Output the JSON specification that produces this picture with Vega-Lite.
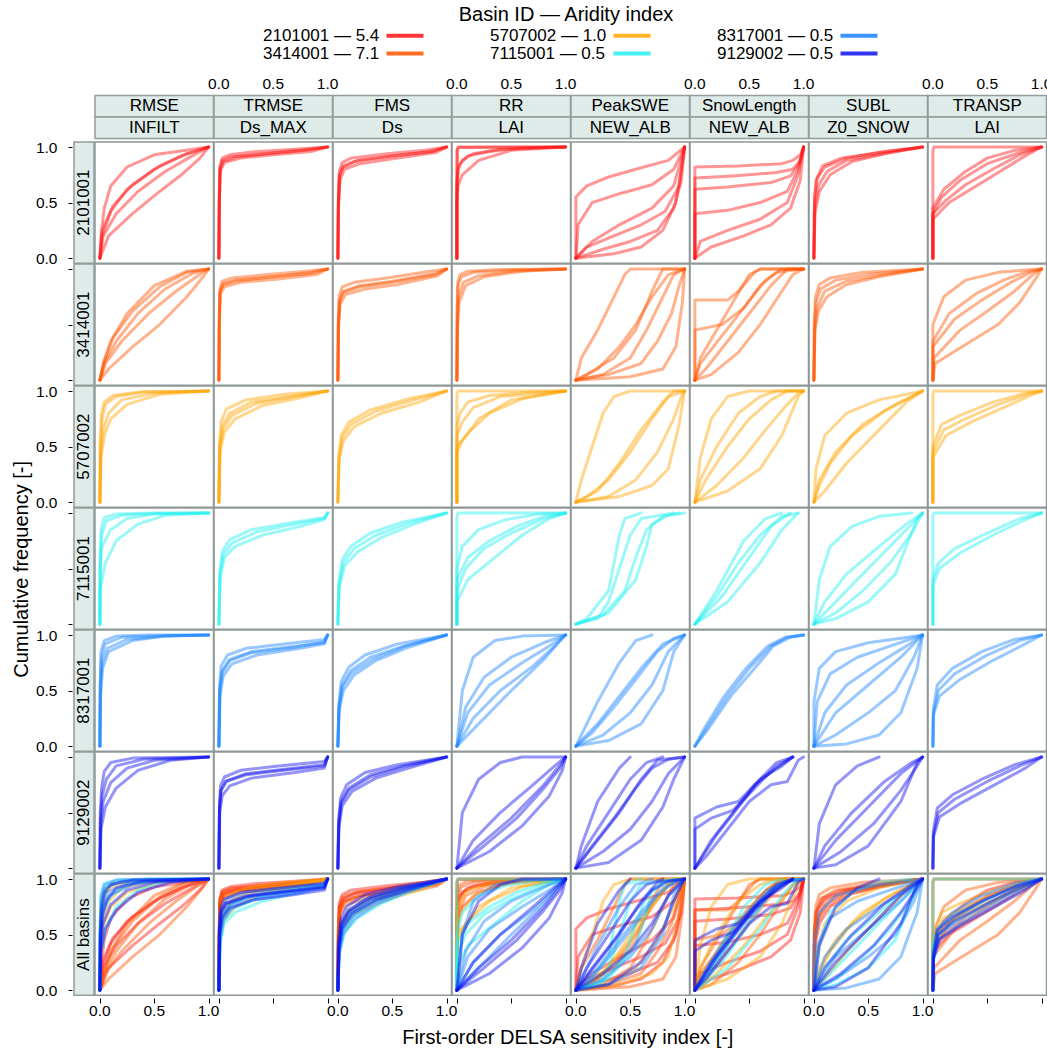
{
"$schema": "https://vega.github.io/schema/vega-lite/v6.json",
"padding": {"left": 12, "top": 5, "right": 1, "bottom": 2},
"config": {
  "font": "Liberation Sans",
  "view": {"stroke": "#8e9896", "strokeWidth": 1.5},
  "axis": {"labelFontSize": 15.5, "labelColor": "#000", "tickColor": "#000", "domain": false, "grid": false},
  "title": {"fontWeight": "normal", "fontSize": 20, "color": "#000"}
},
"columns": 2,
"spacing": {"row": 0, "column": -7.6},
"bounds": "full",
"align": "each",
"resolve": {"scale": {"x": "independent", "y": "independent"}},
"concat": [
{"width": 20, "height": 10, "view": {"stroke": null}, "data": {"values": [{}]}, "mark": {"type": "text", "text": ""}},
{
 "data": {"values": [
  {"c":"RMSE","t":"s","lvl":"s1","txt":"RMSE"},{"c":"RMSE","t":"s","lvl":"s2","txt":"INFILT"},
  {"c":"TRMSE","t":"s","lvl":"s1","txt":"TRMSE"},{"c":"TRMSE","t":"s","lvl":"s2","txt":"Ds_MAX"},
  {"c":"FMS","t":"s","lvl":"s1","txt":"FMS"},{"c":"FMS","t":"s","lvl":"s2","txt":"Ds"},
  {"c":"RR","t":"s","lvl":"s1","txt":"RR"},{"c":"RR","t":"s","lvl":"s2","txt":"LAI"},
  {"c":"PeakSWE","t":"s","lvl":"s1","txt":"PeakSWE"},{"c":"PeakSWE","t":"s","lvl":"s2","txt":"NEW_ALB"},
  {"c":"SnowLength","t":"s","lvl":"s1","txt":"SnowLength"},{"c":"SnowLength","t":"s","lvl":"s2","txt":"NEW_ALB"},
  {"c":"SUBL","t":"s","lvl":"s1","txt":"SUBL"},{"c":"SUBL","t":"s","lvl":"s2","txt":"Z0_SNOW"},
  {"c":"TRANSP","t":"s","lvl":"s1","txt":"TRANSP"},{"c":"TRANSP","t":"s","lvl":"s2","txt":"LAI"},
  {"c":"RMSE","t":"x","lvl":"s2","v":0,"txt":"0.0"},
  {"c":"TRMSE","t":"l","lvl":"lab","v":0,"txt":"0.0"},{"c":"TRMSE","t":"l","lvl":"lab","v":0.5,"txt":"0.5"},{"c":"TRMSE","t":"l","lvl":"lab","v":1,"txt":"1.0"},
  {"c":"RR","t":"l","lvl":"lab","v":0,"txt":"0.0"},{"c":"RR","t":"l","lvl":"lab","v":0.5,"txt":"0.5"},{"c":"RR","t":"l","lvl":"lab","v":1,"txt":"1.0"},
  {"c":"SnowLength","t":"l","lvl":"lab","v":0,"txt":"0.0"},{"c":"SnowLength","t":"l","lvl":"lab","v":0.5,"txt":"0.5"},{"c":"SnowLength","t":"l","lvl":"lab","v":1,"txt":"1.0"},
  {"c":"TRANSP","t":"l","lvl":"lab","v":0,"txt":"0.0"},{"c":"TRANSP","t":"l","lvl":"lab","v":0.5,"txt":"0.5"},{"c":"TRANSP","t":"l","lvl":"lab","v":1,"txt":"1.0"}
 ]},
 "facet": {"column": {"field": "c", "type": "nominal", "sort": ["RMSE","TRMSE","FMS","RR","PeakSWE","SnowLength","SUBL","TRANSP"], "header": null}},
 "spacing": 0,
 "bounds": "flush",
 "spec": {
  "width": 118.5, "height": 64.5, "view": {"stroke": null},
  "layer": [
   {"transform": [{"filter": "datum.t == 's'"}],
    "mark": {"type": "rect", "fill": "#deebe8", "stroke": "#939d9b", "strokeWidth": 1.5},
    "encoding": {
     "x": {"datum": -0.045, "type": "quantitative", "scale": {"domain": [-0.045, 1.045], "nice": false, "zero": false}, "axis": null},
     "x2": {"datum": 1.045},
     "y": {"field": "lvl", "type": "nominal", "scale": {"domain": ["lab","s1","s2"], "paddingInner": 0, "paddingOuter": 0}, "axis": null}
    }},
   {"transform": [{"filter": "datum.t == 's'"}],
    "mark": {"type": "text", "fontSize": 17, "color": "#000"},
    "encoding": {
     "x": {"datum": 0.5, "type": "quantitative"},
     "y": {"field": "lvl", "type": "nominal"},
     "text": {"field": "txt"}
    }},
   {"transform": [{"filter": "datum.t == 'l'"}],
    "mark": {"type": "text", "fontSize": 15.5, "dy": -1, "color": "#000"},
    "encoding": {
     "x": {"field": "v", "type": "quantitative"},
     "y": {"field": "lvl", "type": "nominal"},
     "text": {"field": "txt"}
    }},
   {"transform": [{"filter": "datum.t == 'x'"}],
    "mark": {"type": "text", "fontSize": 15.5, "opacity": 0},
    "encoding": {
     "x": {"field": "v", "type": "quantitative"},
     "y": {"field": "lvl", "type": "nominal"},
     "text": {"field": "txt"}
    }}
  ]
 }
},
{
 "vconcat": [
  {"width": 20, "height": 121.14, "view": {"stroke": null}, "data": {"values": [{"r": "2101001"}]},
   "layer": [
    {"mark": {"type": "rect", "fill": "#deebe8", "stroke": "#939d9b", "strokeWidth": 1.5},
     "encoding": {"x": {"datum": 0, "type": "quantitative", "scale": {"domain": [0, 1]}, "axis": null}, "x2": {"datum": 1},
      "y": {"datum": -0.045, "type": "quantitative", "scale": {"domain": [-0.045, 1.045], "nice": false, "zero": false},
            "axis": {"values": [0, 0.5, 1], "format": ".1f", "labels": true, "tickSize": 4, "offset": 2, "labelPadding": 11, "title": null}},
      "y2": {"datum": 1.045}}},
    {"mark": {"type": "text", "angle": 270, "fontSize": 17, "color": "#000"},
     "encoding": {"x": {"datum": 0.5, "type": "quantitative"}, "y": {"datum": 0.5, "type": "quantitative"}, "text": {"field": "r"}}}
   ]},
  {"width": 20, "height": 121.14, "view": {"stroke": null}, "data": {"values": [{"r": "3414001"}]},
   "layer": [
    {"mark": {"type": "rect", "fill": "#deebe8", "stroke": "#939d9b", "strokeWidth": 1.5},
     "encoding": {"x": {"datum": 0, "type": "quantitative", "scale": {"domain": [0, 1]}, "axis": null}, "x2": {"datum": 1},
      "y": {"datum": -0.045, "type": "quantitative", "scale": {"domain": [-0.045, 1.045], "nice": false, "zero": false},
            "axis": {"values": [0, 0.5, 1], "format": ".1f", "labels": false, "tickSize": 4, "offset": 2, "labelPadding": 11, "title": null}},
      "y2": {"datum": 1.045}}},
    {"mark": {"type": "text", "angle": 270, "fontSize": 17, "color": "#000"},
     "encoding": {"x": {"datum": 0.5, "type": "quantitative"}, "y": {"datum": 0.5, "type": "quantitative"}, "text": {"field": "r"}}}
   ]},
  {"width": 20, "height": 121.14, "view": {"stroke": null}, "data": {"values": [{"r": "5707002"}]},
   "layer": [
    {"mark": {"type": "rect", "fill": "#deebe8", "stroke": "#939d9b", "strokeWidth": 1.5},
     "encoding": {"x": {"datum": 0, "type": "quantitative", "scale": {"domain": [0, 1]}, "axis": null}, "x2": {"datum": 1},
      "y": {"datum": -0.045, "type": "quantitative", "scale": {"domain": [-0.045, 1.045], "nice": false, "zero": false},
            "axis": {"values": [0, 0.5, 1], "format": ".1f", "labels": true, "tickSize": 4, "offset": 2, "labelPadding": 11, "title": null}},
      "y2": {"datum": 1.045}}},
    {"mark": {"type": "text", "angle": 270, "fontSize": 17, "color": "#000"},
     "encoding": {"x": {"datum": 0.5, "type": "quantitative"}, "y": {"datum": 0.5, "type": "quantitative"}, "text": {"field": "r"}}}
   ]},
  {"width": 20, "height": 121.14, "view": {"stroke": null}, "data": {"values": [{"r": "7115001"}]},
   "layer": [
    {"mark": {"type": "rect", "fill": "#deebe8", "stroke": "#939d9b", "strokeWidth": 1.5},
     "encoding": {"x": {"datum": 0, "type": "quantitative", "scale": {"domain": [0, 1]}, "axis": null}, "x2": {"datum": 1},
      "y": {"datum": -0.045, "type": "quantitative", "scale": {"domain": [-0.045, 1.045], "nice": false, "zero": false},
            "axis": {"values": [0, 0.5, 1], "format": ".1f", "labels": false, "tickSize": 4, "offset": 2, "labelPadding": 11, "title": null}},
      "y2": {"datum": 1.045}}},
    {"mark": {"type": "text", "angle": 270, "fontSize": 17, "color": "#000"},
     "encoding": {"x": {"datum": 0.5, "type": "quantitative"}, "y": {"datum": 0.5, "type": "quantitative"}, "text": {"field": "r"}}}
   ]},
  {"width": 20, "height": 121.14, "view": {"stroke": null}, "data": {"values": [{"r": "8317001"}]},
   "layer": [
    {"mark": {"type": "rect", "fill": "#deebe8", "stroke": "#939d9b", "strokeWidth": 1.5},
     "encoding": {"x": {"datum": 0, "type": "quantitative", "scale": {"domain": [0, 1]}, "axis": null}, "x2": {"datum": 1},
      "y": {"datum": -0.045, "type": "quantitative", "scale": {"domain": [-0.045, 1.045], "nice": false, "zero": false},
            "axis": {"values": [0, 0.5, 1], "format": ".1f", "labels": true, "tickSize": 4, "offset": 2, "labelPadding": 11, "title": null}},
      "y2": {"datum": 1.045}}},
    {"mark": {"type": "text", "angle": 270, "fontSize": 17, "color": "#000"},
     "encoding": {"x": {"datum": 0.5, "type": "quantitative"}, "y": {"datum": 0.5, "type": "quantitative"}, "text": {"field": "r"}}}
   ]},
  {"width": 20, "height": 121.14, "view": {"stroke": null}, "data": {"values": [{"r": "9129002"}]},
   "layer": [
    {"mark": {"type": "rect", "fill": "#deebe8", "stroke": "#939d9b", "strokeWidth": 1.5},
     "encoding": {"x": {"datum": 0, "type": "quantitative", "scale": {"domain": [0, 1]}, "axis": null}, "x2": {"datum": 1},
      "y": {"datum": -0.045, "type": "quantitative", "scale": {"domain": [-0.045, 1.045], "nice": false, "zero": false},
            "axis": {"values": [0, 0.5, 1], "format": ".1f", "labels": false, "tickSize": 4, "offset": 2, "labelPadding": 11, "title": null}},
      "y2": {"datum": 1.045}}},
    {"mark": {"type": "text", "angle": 270, "fontSize": 17, "color": "#000"},
     "encoding": {"x": {"datum": 0.5, "type": "quantitative"}, "y": {"datum": 0.5, "type": "quantitative"}, "text": {"field": "r"}}}
   ]},
  {"width": 20, "height": 121.14, "view": {"stroke": null}, "data": {"values": [{"r": "All basins"}]},
   "layer": [
    {"mark": {"type": "rect", "fill": "#deebe8", "stroke": "#939d9b", "strokeWidth": 1.5},
     "encoding": {"x": {"datum": 0, "type": "quantitative", "scale": {"domain": [0, 1]}, "axis": null}, "x2": {"datum": 1},
      "y": {"datum": -0.045, "type": "quantitative", "scale": {"domain": [-0.045, 1.045], "nice": false, "zero": false},
            "axis": {"values": [0, 0.5, 1], "format": ".1f", "labels": true, "tickSize": 4, "offset": 2, "labelPadding": 11, "title": null}},
      "y2": {"datum": 1.045}}},
    {"mark": {"type": "text", "angle": 270, "fontSize": 17, "color": "#000"},
     "encoding": {"x": {"datum": 0.5, "type": "quantitative"}, "y": {"datum": 0.5, "type": "quantitative"}, "text": {"field": "r"}}}
   ]}
 ],
 "spacing": 0,
 "bounds": "flush",
 "resolve": {"scale": {"x": "independent", "y": "independent"}},
 "title": {"text": "Cumulative frequency [-]", "orient": "left", "anchor": "middle", "fontSize": 20, "fontWeight": "normal", "offset": 3}
},
{
 "data": {"values": [
{"b":"2101001 — 5.4","id":"2101001","a":"All basins","c":"RMSE","k":1,"x":[0,0.01,0.04,0.1,0.25,0.5,1],"y":[0,0.2,0.45,0.65,0.82,0.93,1]},
{"b":"2101001 — 5.4","id":"2101001","a":"All basins","c":"RMSE","k":2,"x":[0,0.02,0.1,0.25,0.5,0.75,1],"y":[0,0.2,0.42,0.62,0.8,0.92,1]},
{"b":"2101001 — 5.4","id":"2101001","a":"All basins","c":"RMSE","k":3,"x":[0,0.03,0.15,0.35,0.6,0.85,1],"y":[0,0.2,0.4,0.6,0.78,0.92,1]},
{"b":"2101001 — 5.4","id":"2101001","a":"All basins","c":"RMSE","k":4,"x":[0,0.08,0.3,0.55,0.75,0.92,1],"y":[0,0.2,0.4,0.6,0.75,0.9,1]},
{"b":"2101001 — 5.4","id":"2101001","a":"All basins","c":"RMSE","k":5,"x":[0,0.02,0.12,0.3,0.55,0.8,1],"y":[0,0.25,0.47,0.66,0.83,0.94,1]},
{"b":"2101001 — 5.4","id":"2101001","a":"All basins","c":"TRMSE","k":1,"x":[0,0.004,0.01,0.03,0.1,0.4,0.75,1],"y":[0,0.5,0.8,0.88,0.91,0.94,0.97,1]},
{"b":"2101001 — 5.4","id":"2101001","a":"All basins","c":"TRMSE","k":2,"x":[0,0.004,0.012,0.05,0.2,0.5,0.85,1],"y":[0,0.5,0.78,0.86,0.9,0.93,0.96,1]},
{"b":"2101001 — 5.4","id":"2101001","a":"All basins","c":"TRMSE","k":3,"x":[0,0.003,0.008,0.03,0.1,0.35,0.7,1],"y":[0,0.55,0.82,0.9,0.93,0.96,0.98,1]},
{"b":"2101001 — 5.4","id":"2101001","a":"All basins","c":"TRMSE","k":4,"x":[0,0.004,0.012,0.04,0.15,0.45,0.8,1],"y":[0,0.5,0.8,0.87,0.91,0.94,0.97,1]},
{"b":"2101001 — 5.4","id":"2101001","a":"All basins","c":"FMS","k":1,"x":[0,0.005,0.015,0.05,0.15,0.5,0.85,1],"y":[0,0.5,0.75,0.83,0.87,0.92,0.96,1]},
{"b":"2101001 — 5.4","id":"2101001","a":"All basins","c":"FMS","k":2,"x":[0,0.005,0.02,0.06,0.2,0.55,0.9,1],"y":[0,0.45,0.7,0.8,0.85,0.9,0.95,1]},
{"b":"2101001 — 5.4","id":"2101001","a":"All basins","c":"FMS","k":3,"x":[0,0.004,0.012,0.04,0.12,0.45,0.8,1],"y":[0,0.55,0.78,0.86,0.9,0.94,0.97,1]},
{"b":"2101001 — 5.4","id":"2101001","a":"All basins","c":"FMS","k":4,"x":[0,0.005,0.015,0.05,0.18,0.5,0.88,1],"y":[0,0.5,0.74,0.82,0.88,0.92,0.96,1]},
{"b":"2101001 — 5.4","id":"2101001","a":"All basins","c":"RR","k":1,"x":[0,0,0,0.01,1],"y":[0,0.5,0.97,1,1]},
{"b":"2101001 — 5.4","id":"2101001","a":"All basins","c":"RR","k":2,"x":[0,0,0.005,0.02,1],"y":[0,0.6,0.98,0.995,1]},
{"b":"2101001 — 5.4","id":"2101001","a":"All basins","c":"RR","k":3,"x":[0,0,0.01,0.05,0.2,0.5,1],"y":[0,0.5,0.65,0.75,0.88,0.97,1]},
{"b":"2101001 — 5.4","id":"2101001","a":"All basins","c":"RR","k":4,"x":[0,0,0.01,0.05,0.15,0.4,1],"y":[0,0.6,0.8,0.88,0.94,0.98,1]},
{"b":"2101001 — 5.4","id":"2101001","a":"All basins","c":"RR","k":5,"x":[0,0,0.02,0.1,0.3,0.6,1],"y":[0,0.7,0.84,0.92,0.96,0.99,1]},
{"b":"2101001 — 5.4","id":"2101001","a":"All basins","c":"PeakSWE","k":1,"x":[0,0,0.1,0.3,0.55,0.85,1],"y":[0,0.55,0.65,0.73,0.8,0.88,1]},
{"b":"2101001 — 5.4","id":"2101001","a":"All basins","c":"PeakSWE","k":2,"x":[0,0.02,0.15,0.4,0.7,0.9,1],"y":[0,0.3,0.5,0.58,0.66,0.8,1]},
{"b":"2101001 — 5.4","id":"2101001","a":"All basins","c":"PeakSWE","k":3,"x":[0,0.15,0.4,0.7,0.9,1],"y":[0,0.15,0.3,0.45,0.65,1]},
{"b":"2101001 — 5.4","id":"2101001","a":"All basins","c":"PeakSWE","k":4,"x":[0,0.25,0.5,0.75,0.9,0.97,1],"y":[0,0.08,0.15,0.25,0.45,0.7,1]},
{"b":"2101001 — 5.4","id":"2101001","a":"All basins","c":"PeakSWE","k":5,"x":[0,0.35,0.6,0.8,0.92,1],"y":[0,0.04,0.1,0.25,0.5,1]},
{"b":"2101001 — 5.4","id":"2101001","a":"All basins","c":"PeakSWE","k":6,"x":[0,0.1,0.35,0.6,0.82,0.95,1],"y":[0,0.1,0.2,0.3,0.42,0.65,1]},
{"b":"2101001 — 5.4","id":"2101001","a":"All basins","c":"SnowLength","k":1,"x":[0,0,0.4,0.8,0.9,0.97,1],"y":[0,0.82,0.83,0.85,0.88,0.93,1]},
{"b":"2101001 — 5.4","id":"2101001","a":"All basins","c":"SnowLength","k":2,"x":[0,0,0.3,0.7,0.88,0.96,1],"y":[0,0.62,0.64,0.68,0.74,0.85,1]},
{"b":"2101001 — 5.4","id":"2101001","a":"All basins","c":"SnowLength","k":3,"x":[0,0,0.3,0.6,0.85,0.95,1],"y":[0,0.4,0.43,0.5,0.6,0.8,1]},
{"b":"2101001 — 5.4","id":"2101001","a":"All basins","c":"SnowLength","k":4,"x":[0,0.05,0.3,0.6,0.85,0.95,1],"y":[0,0.15,0.25,0.35,0.5,0.75,1]},
{"b":"2101001 — 5.4","id":"2101001","a":"All basins","c":"SnowLength","k":5,"x":[0,0.15,0.45,0.7,0.88,0.97,1],"y":[0,0.1,0.2,0.3,0.45,0.7,1]},
{"b":"2101001 — 5.4","id":"2101001","a":"All basins","c":"SnowLength","k":6,"x":[0,0,0.35,0.75,0.9,0.97,1],"y":[0,0.72,0.74,0.77,0.8,0.88,1]},
{"b":"2101001 — 5.4","id":"2101001","a":"All basins","c":"SUBL","k":1,"x":[0,0.005,0.02,0.08,0.25,0.6,1],"y":[0,0.5,0.7,0.83,0.9,0.95,1]},
{"b":"2101001 — 5.4","id":"2101001","a":"All basins","c":"SUBL","k":2,"x":[0,0.01,0.05,0.15,0.35,0.7,1],"y":[0,0.4,0.6,0.75,0.87,0.95,1]},
{"b":"2101001 — 5.4","id":"2101001","a":"All basins","c":"SUBL","k":3,"x":[0,0.005,0.03,0.1,0.3,0.65,1],"y":[0,0.55,0.72,0.82,0.9,0.96,1]},
{"b":"2101001 — 5.4","id":"2101001","a":"All basins","c":"SUBL","k":4,"x":[0,0.008,0.04,0.12,0.3,0.7,1],"y":[0,0.45,0.65,0.78,0.88,0.95,1]},
{"b":"2101001 — 5.4","id":"2101001","a":"All basins","c":"TRANSP","k":1,"x":[0,0,0,0.01,1],"y":[0,0.5,0.97,1,1]},
{"b":"2101001 — 5.4","id":"2101001","a":"All basins","c":"TRANSP","k":2,"x":[0,0,0.1,0.3,0.5,0.75,1],"y":[0,0.45,0.62,0.78,0.9,0.97,1]},
{"b":"2101001 — 5.4","id":"2101001","a":"All basins","c":"TRANSP","k":3,"x":[0,0,0.15,0.35,0.6,0.85,1],"y":[0,0.35,0.5,0.62,0.77,0.92,1]},
{"b":"2101001 — 5.4","id":"2101001","a":"All basins","c":"TRANSP","k":4,"x":[0,0,0.08,0.25,0.5,0.8,1],"y":[0,0.4,0.55,0.7,0.85,0.95,1]},
{"b":"2101001 — 5.4","id":"2101001","a":"All basins","c":"TRANSP","k":5,"x":[0,0,0.12,0.3,0.55,0.8,1],"y":[0,0.4,0.52,0.66,0.8,0.93,1]},

{"b":"3414001 — 7.1","id":"3414001","a":"All basins","c":"RMSE","k":1,"x":[0,0.03,0.1,0.25,0.5,0.8,1],"y":[0,0.15,0.35,0.6,0.85,0.98,1]},
{"b":"3414001 — 7.1","id":"3414001","a":"All basins","c":"RMSE","k":2,"x":[0,0.04,0.15,0.35,0.6,0.85,1],"y":[0,0.15,0.35,0.6,0.82,0.96,1]},
{"b":"3414001 — 7.1","id":"3414001","a":"All basins","c":"RMSE","k":3,"x":[0,0.05,0.2,0.45,0.7,0.9,1],"y":[0,0.15,0.35,0.6,0.8,0.94,1]},
{"b":"3414001 — 7.1","id":"3414001","a":"All basins","c":"RMSE","k":4,"x":[0,0.08,0.3,0.55,0.8,0.95,1],"y":[0,0.1,0.3,0.5,0.75,0.93,1]},
{"b":"3414001 — 7.1","id":"3414001","a":"All basins","c":"RMSE","k":5,"x":[0,0.04,0.12,0.3,0.55,0.8,1],"y":[0,0.17,0.38,0.62,0.84,0.97,1]},
{"b":"3414001 — 7.1","id":"3414001","a":"All basins","c":"TRMSE","k":1,"x":[0,0.004,0.01,0.04,0.15,0.5,0.85,1],"y":[0,0.5,0.8,0.87,0.9,0.93,0.97,1]},
{"b":"3414001 — 7.1","id":"3414001","a":"All basins","c":"TRMSE","k":2,"x":[0,0.004,0.012,0.05,0.2,0.55,0.9,1],"y":[0,0.5,0.77,0.84,0.88,0.91,0.95,1]},
{"b":"3414001 — 7.1","id":"3414001","a":"All basins","c":"TRMSE","k":3,"x":[0,0.003,0.009,0.03,0.12,0.45,0.8,1],"y":[0,0.55,0.82,0.89,0.92,0.95,0.98,1]},
{"b":"3414001 — 7.1","id":"3414001","a":"All basins","c":"TRMSE","k":4,"x":[0,0.004,0.01,0.04,0.15,0.5,0.85,1],"y":[0,0.5,0.79,0.86,0.89,0.93,0.96,1]},
{"b":"3414001 — 7.1","id":"3414001","a":"All basins","c":"FMS","k":1,"x":[0,0.005,0.015,0.05,0.2,0.5,0.9,1],"y":[0,0.5,0.72,0.8,0.85,0.89,0.96,1]},
{"b":"3414001 — 7.1","id":"3414001","a":"All basins","c":"FMS","k":2,"x":[0,0.005,0.02,0.07,0.25,0.55,0.92,1],"y":[0,0.45,0.68,0.77,0.82,0.86,0.94,1]},
{"b":"3414001 — 7.1","id":"3414001","a":"All basins","c":"FMS","k":3,"x":[0,0.004,0.012,0.04,0.15,0.45,0.85,1],"y":[0,0.55,0.76,0.84,0.88,0.92,0.98,1]},
{"b":"3414001 — 7.1","id":"3414001","a":"All basins","c":"FMS","k":4,"x":[0,0.005,0.015,0.05,0.2,0.5,0.9,1],"y":[0,0.5,0.7,0.79,0.84,0.88,0.95,1]},
{"b":"3414001 — 7.1","id":"3414001","a":"All basins","c":"RR","k":1,"x":[0,0.003,0.01,0.04,0.15,0.5,1],"y":[0,0.6,0.85,0.93,0.97,0.99,1]},
{"b":"3414001 — 7.1","id":"3414001","a":"All basins","c":"RR","k":2,"x":[0,0.004,0.015,0.06,0.2,0.5,1],"y":[0,0.5,0.75,0.88,0.94,0.98,1]},
{"b":"3414001 — 7.1","id":"3414001","a":"All basins","c":"RR","k":3,"x":[0,0.002,0.008,0.03,0.1,0.4,1],"y":[0,0.65,0.88,0.95,0.98,0.995,1]},
{"b":"3414001 — 7.1","id":"3414001","a":"All basins","c":"RR","k":4,"x":[0,0.005,0.02,0.08,0.25,0.6,1],"y":[0,0.45,0.7,0.85,0.93,0.98,1]},
{"b":"3414001 — 7.1","id":"3414001","a":"All basins","c":"PeakSWE","k":1,"x":[0,0.05,0.2,0.35,0.45,0.5,1],"y":[0,0.2,0.45,0.75,0.95,1,1]},
{"b":"3414001 — 7.1","id":"3414001","a":"All basins","c":"PeakSWE","k":2,"x":[0,0.2,0.4,0.55,0.7,0.85,1],"y":[0,0.1,0.3,0.5,0.75,0.95,1]},
{"b":"3414001 — 7.1","id":"3414001","a":"All basins","c":"PeakSWE","k":3,"x":[0,0.3,0.6,0.75,0.88,0.95,1],"y":[0,0.05,0.15,0.35,0.6,0.85,1]},
{"b":"3414001 — 7.1","id":"3414001","a":"All basins","c":"PeakSWE","k":4,"x":[0,0.5,0.8,0.92,0.98,1],"y":[0,0.03,0.1,0.3,0.7,1]},
{"b":"3414001 — 7.1","id":"3414001","a":"All basins","c":"PeakSWE","k":5,"x":[0,0.1,0.35,0.55,0.7,0.8,1],"y":[0,0.05,0.2,0.45,0.8,1,1]},
{"b":"3414001 — 7.1","id":"3414001","a":"All basins","c":"PeakSWE","k":6,"x":[0,0.25,0.5,0.65,0.8,0.9,1],"y":[0,0.05,0.2,0.45,0.75,0.95,1]},
{"b":"3414001 — 7.1","id":"3414001","a":"All basins","c":"SnowLength","k":1,"x":[0,0,0.3,0.4,0.55,0.6,1],"y":[0,0.72,0.72,0.8,0.97,1,1]},
{"b":"3414001 — 7.1","id":"3414001","a":"All basins","c":"SnowLength","k":2,"x":[0,0.05,0.2,0.35,0.5,0.6,1],"y":[0,0.2,0.45,0.7,0.95,1,1]},
{"b":"3414001 — 7.1","id":"3414001","a":"All basins","c":"SnowLength","k":3,"x":[0,0.1,0.3,0.5,0.7,0.85,1],"y":[0,0.1,0.35,0.6,0.85,1,1]},
{"b":"3414001 — 7.1","id":"3414001","a":"All basins","c":"SnowLength","k":4,"x":[0,0.15,0.4,0.6,0.8,0.9,1],"y":[0,0.05,0.25,0.5,0.8,0.95,1]},
{"b":"3414001 — 7.1","id":"3414001","a":"All basins","c":"SnowLength","k":5,"x":[0,0,0.25,0.45,0.6,0.75,1],"y":[0,0.45,0.5,0.65,0.85,0.97,1]},
{"b":"3414001 — 7.1","id":"3414001","a":"All basins","c":"SnowLength","k":6,"x":[0,0.05,0.25,0.45,0.65,0.8,1],"y":[0,0.15,0.4,0.65,0.9,1,1]},
{"b":"3414001 — 7.1","id":"3414001","a":"All basins","c":"SUBL","k":1,"x":[0,0.005,0.02,0.06,0.2,0.5,1],"y":[0,0.5,0.7,0.82,0.9,0.95,1]},
{"b":"3414001 — 7.1","id":"3414001","a":"All basins","c":"SUBL","k":2,"x":[0,0.01,0.04,0.12,0.3,0.6,1],"y":[0,0.45,0.62,0.75,0.86,0.93,1]},
{"b":"3414001 — 7.1","id":"3414001","a":"All basins","c":"SUBL","k":3,"x":[0,0.004,0.015,0.05,0.15,0.45,1],"y":[0,0.55,0.75,0.86,0.92,0.97,1]},
{"b":"3414001 — 7.1","id":"3414001","a":"All basins","c":"SUBL","k":4,"x":[0,0.008,0.03,0.1,0.3,0.65,1],"y":[0,0.45,0.65,0.8,0.89,0.95,1]},
{"b":"3414001 — 7.1","id":"3414001","a":"All basins","c":"TRANSP","k":1,"x":[0,0,0.1,0.3,0.6,0.85,1],"y":[0,0.5,0.75,0.9,0.97,0.99,1]},
{"b":"3414001 — 7.1","id":"3414001","a":"All basins","c":"TRANSP","k":2,"x":[0,0,0.15,0.4,0.65,0.85,1],"y":[0,0.35,0.6,0.78,0.9,0.97,1]},
{"b":"3414001 — 7.1","id":"3414001","a":"All basins","c":"TRANSP","k":3,"x":[0,0.01,0.25,0.5,0.75,0.92,1],"y":[0,0.2,0.45,0.62,0.8,0.95,1]},
{"b":"3414001 — 7.1","id":"3414001","a":"All basins","c":"TRANSP","k":4,"x":[0,0.02,0.35,0.6,0.8,0.95,1],"y":[0,0.15,0.35,0.5,0.7,0.92,1]},
{"b":"3414001 — 7.1","id":"3414001","a":"All basins","c":"TRANSP","k":5,"x":[0,0,0.2,0.45,0.7,0.9,1],"y":[0,0.3,0.55,0.72,0.87,0.97,1]},

{"b":"5707002 — 1.0","id":"5707002","a":"All basins","c":"RMSE","k":1,"x":[0,0.005,0.02,0.05,0.15,0.4,1],"y":[0,0.5,0.75,0.88,0.95,0.99,1]},
{"b":"5707002 — 1.0","id":"5707002","a":"All basins","c":"RMSE","k":2,"x":[0,0.008,0.03,0.08,0.2,0.5,1],"y":[0,0.45,0.65,0.8,0.92,0.98,1]},
{"b":"5707002 — 1.0","id":"5707002","a":"All basins","c":"RMSE","k":3,"x":[0,0.004,0.015,0.04,0.12,0.35,1],"y":[0,0.55,0.8,0.9,0.96,0.99,1]},
{"b":"5707002 — 1.0","id":"5707002","a":"All basins","c":"RMSE","k":4,"x":[0,0.01,0.04,0.1,0.25,0.55,1],"y":[0,0.4,0.6,0.75,0.88,0.97,1]},
{"b":"5707002 — 1.0","id":"5707002","a":"All basins","c":"TRMSE","k":1,"x":[0,0.008,0.03,0.1,0.3,0.65,1],"y":[0,0.5,0.68,0.8,0.9,0.95,1]},
{"b":"5707002 — 1.0","id":"5707002","a":"All basins","c":"TRMSE","k":2,"x":[0,0.01,0.05,0.15,0.4,0.75,1],"y":[0,0.45,0.63,0.75,0.87,0.94,1]},
{"b":"5707002 — 1.0","id":"5707002","a":"All basins","c":"TRMSE","k":3,"x":[0,0.006,0.02,0.07,0.25,0.6,1],"y":[0,0.55,0.72,0.84,0.92,0.97,1]},
{"b":"5707002 — 1.0","id":"5707002","a":"All basins","c":"TRMSE","k":4,"x":[0,0.01,0.04,0.12,0.35,0.7,1],"y":[0,0.5,0.66,0.78,0.89,0.95,1]},
{"b":"5707002 — 1.0","id":"5707002","a":"All basins","c":"FMS","k":1,"x":[0,0.01,0.04,0.12,0.35,0.7,1],"y":[0,0.4,0.58,0.7,0.82,0.92,1]},
{"b":"5707002 — 1.0","id":"5707002","a":"All basins","c":"FMS","k":2,"x":[0,0.012,0.05,0.15,0.4,0.75,1],"y":[0,0.38,0.55,0.68,0.8,0.9,1]},
{"b":"5707002 — 1.0","id":"5707002","a":"All basins","c":"FMS","k":3,"x":[0,0.008,0.03,0.1,0.3,0.65,1],"y":[0,0.42,0.6,0.72,0.83,0.93,1]},
{"b":"5707002 — 1.0","id":"5707002","a":"All basins","c":"RR","k":1,"x":[0,0,0,0.01,1],"y":[0,0.5,0.97,1,1]},
{"b":"5707002 — 1.0","id":"5707002","a":"All basins","c":"RR","k":2,"x":[0,0,0.05,0.2,0.5,1],"y":[0,0.45,0.55,0.75,0.92,1]},
{"b":"5707002 — 1.0","id":"5707002","a":"All basins","c":"RR","k":3,"x":[0,0,0.05,0.15,0.4,1],"y":[0,0.6,0.72,0.85,0.95,1]},
{"b":"5707002 — 1.0","id":"5707002","a":"All basins","c":"RR","k":4,"x":[0,0,0.03,0.1,0.3,0.7,1],"y":[0,0.7,0.8,0.9,0.96,0.99,1]},
{"b":"5707002 — 1.0","id":"5707002","a":"All basins","c":"RR","k":5,"x":[0,0,0.1,0.3,0.6,1],"y":[0,0.5,0.62,0.8,0.93,1]},
{"b":"5707002 — 1.0","id":"5707002","a":"All basins","c":"PeakSWE","k":1,"x":[0,0.05,0.15,0.25,0.35,0.5,1],"y":[0,0.2,0.5,0.8,0.95,1,1]},
{"b":"5707002 — 1.0","id":"5707002","a":"All basins","c":"PeakSWE","k":2,"x":[0,0.2,0.4,0.6,0.8,0.9,1],"y":[0,0.1,0.35,0.65,0.9,1,1]},
{"b":"5707002 — 1.0","id":"5707002","a":"All basins","c":"PeakSWE","k":3,"x":[0,0.4,0.7,0.85,0.95,1],"y":[0,0.05,0.15,0.3,0.7,1]},
{"b":"5707002 — 1.0","id":"5707002","a":"All basins","c":"PeakSWE","k":4,"x":[0,0.1,0.3,0.5,0.7,0.85,1],"y":[0,0.05,0.2,0.45,0.75,0.95,1]},
{"b":"5707002 — 1.0","id":"5707002","a":"All basins","c":"PeakSWE","k":5,"x":[0,0.3,0.55,0.75,0.9,0.97,1],"y":[0,0.05,0.2,0.45,0.75,0.95,1]},
{"b":"5707002 — 1.0","id":"5707002","a":"All basins","c":"SnowLength","k":1,"x":[0,0.05,0.15,0.3,0.5,1],"y":[0,0.4,0.75,0.95,1,1]},
{"b":"5707002 — 1.0","id":"5707002","a":"All basins","c":"SnowLength","k":2,"x":[0,0.1,0.3,0.5,0.7,0.85,1],"y":[0,0.2,0.5,0.75,0.92,1,1]},
{"b":"5707002 — 1.0","id":"5707002","a":"All basins","c":"SnowLength","k":3,"x":[0,0.3,0.6,0.8,0.95,1],"y":[0,0.1,0.3,0.6,0.95,1]},
{"b":"5707002 — 1.0","id":"5707002","a":"All basins","c":"SnowLength","k":4,"x":[0,0.2,0.45,0.65,0.85,0.95,1],"y":[0,0.15,0.4,0.65,0.88,0.98,1]},
{"b":"5707002 — 1.0","id":"5707002","a":"All basins","c":"SnowLength","k":5,"x":[0,0.05,0.2,0.4,0.6,0.75,1],"y":[0,0.2,0.5,0.8,0.95,1,1]},
{"b":"5707002 — 1.0","id":"5707002","a":"All basins","c":"SUBL","k":1,"x":[0,0.02,0.1,0.3,0.6,1],"y":[0,0.3,0.6,0.8,0.92,1]},
{"b":"5707002 — 1.0","id":"5707002","a":"All basins","c":"SUBL","k":2,"x":[0,0.05,0.2,0.45,0.75,1],"y":[0,0.2,0.45,0.7,0.88,1]},
{"b":"5707002 — 1.0","id":"5707002","a":"All basins","c":"SUBL","k":3,"x":[0,0.1,0.3,0.6,0.85,1],"y":[0,0.1,0.35,0.65,0.9,1]},
{"b":"5707002 — 1.0","id":"5707002","a":"All basins","c":"SUBL","k":4,"x":[0,0.05,0.15,0.35,0.65,0.9,1],"y":[0,0.15,0.35,0.6,0.82,0.95,1]},
{"b":"5707002 — 1.0","id":"5707002","a":"All basins","c":"TRANSP","k":1,"x":[0,0,0,0.01,1],"y":[0,0.5,0.97,1,1]},
{"b":"5707002 — 1.0","id":"5707002","a":"All basins","c":"TRANSP","k":2,"x":[0,0,0.1,0.3,0.6,0.9,1],"y":[0,0.45,0.65,0.75,0.88,0.98,1]},
{"b":"5707002 — 1.0","id":"5707002","a":"All basins","c":"TRANSP","k":3,"x":[0,0,0.08,0.25,0.55,0.85,1],"y":[0,0.5,0.7,0.78,0.9,0.98,1]},
{"b":"5707002 — 1.0","id":"5707002","a":"All basins","c":"TRANSP","k":4,"x":[0,0,0.12,0.35,0.65,0.92,1],"y":[0,0.4,0.6,0.72,0.85,0.97,1]},

{"b":"7115001 — 0.5","id":"7115001","a":"All basins","c":"RMSE","k":1,"x":[0,0.003,0.01,0.04,0.15,0.5,1],"y":[0,0.6,0.85,0.96,0.99,1,1]},
{"b":"7115001 — 0.5","id":"7115001","a":"All basins","c":"RMSE","k":2,"x":[0,0.004,0.015,0.06,0.2,0.5,1],"y":[0,0.55,0.8,0.93,0.98,0.995,1]},
{"b":"7115001 — 0.5","id":"7115001","a":"All basins","c":"RMSE","k":3,"x":[0,0,0.05,0.15,0.35,0.6,1],"y":[0,0.3,0.55,0.75,0.9,0.98,1]},
{"b":"7115001 — 0.5","id":"7115001","a":"All basins","c":"RMSE","k":4,"x":[0,0.003,0.02,0.1,0.25,0.5,1],"y":[0,0.5,0.7,0.85,0.95,0.99,1]},
{"b":"7115001 — 0.5","id":"7115001","a":"All basins","c":"TRMSE","k":1,"x":[0,0.01,0.04,0.12,0.35,0.7,0.97,1],"y":[0,0.45,0.62,0.73,0.83,0.9,0.95,1]},
{"b":"7115001 — 0.5","id":"7115001","a":"All basins","c":"TRMSE","k":2,"x":[0,0.012,0.05,0.15,0.4,0.75,0.97,1],"y":[0,0.42,0.6,0.7,0.8,0.88,0.94,1]},
{"b":"7115001 — 0.5","id":"7115001","a":"All basins","c":"TRMSE","k":3,"x":[0,0.008,0.03,0.1,0.3,0.65,0.97,1],"y":[0,0.48,0.65,0.76,0.85,0.91,0.96,1]},
{"b":"7115001 — 0.5","id":"7115001","a":"All basins","c":"FMS","k":1,"x":[0,0.01,0.05,0.15,0.35,0.65,1],"y":[0,0.35,0.55,0.68,0.8,0.91,1]},
{"b":"7115001 — 0.5","id":"7115001","a":"All basins","c":"FMS","k":2,"x":[0,0.012,0.06,0.18,0.4,0.7,1],"y":[0,0.33,0.52,0.65,0.78,0.9,1]},
{"b":"7115001 — 0.5","id":"7115001","a":"All basins","c":"FMS","k":3,"x":[0,0.008,0.04,0.12,0.3,0.6,1],"y":[0,0.38,0.58,0.7,0.82,0.92,1]},
{"b":"7115001 — 0.5","id":"7115001","a":"All basins","c":"RR","k":1,"x":[0,0,0,0.01,1],"y":[0,0.5,0.97,1,1]},
{"b":"7115001 — 0.5","id":"7115001","a":"All basins","c":"RR","k":2,"x":[0,0,0.1,0.35,0.6,0.85,1],"y":[0,0.2,0.4,0.6,0.8,0.95,1]},
{"b":"7115001 — 0.5","id":"7115001","a":"All basins","c":"RR","k":3,"x":[0,0,0.1,0.3,0.55,0.8,1],"y":[0,0.4,0.6,0.75,0.88,0.97,1]},
{"b":"7115001 — 0.5","id":"7115001","a":"All basins","c":"RR","k":4,"x":[0,0,0.05,0.2,0.45,0.75,1],"y":[0,0.5,0.7,0.85,0.94,0.99,1]},
{"b":"7115001 — 0.5","id":"7115001","a":"All basins","c":"RR","k":5,"x":[0,0,0.08,0.25,0.5,0.8,1],"y":[0,0.3,0.5,0.68,0.82,0.95,1]},
{"b":"7115001 — 0.5","id":"7115001","a":"All basins","c":"PeakSWE","k":1,"x":[0,0.2,0.3,0.4,0.5,0.6,0.9],"y":[0,0.05,0.2,0.5,0.8,0.95,1]},
{"b":"7115001 — 0.5","id":"7115001","a":"All basins","c":"PeakSWE","k":2,"x":[0,0.3,0.55,0.65,0.7,0.85,1],"y":[0,0.1,0.4,0.7,0.9,0.98,1]},
{"b":"7115001 — 0.5","id":"7115001","a":"All basins","c":"PeakSWE","k":3,"x":[0,0.1,0.3,0.4,0.45,0.6],"y":[0,0.05,0.3,0.8,0.95,1]},
{"b":"7115001 — 0.5","id":"7115001","a":"All basins","c":"PeakSWE","k":4,"x":[0,0.25,0.45,0.55,0.65,0.8,0.95],"y":[0,0.08,0.3,0.6,0.85,0.97,1]},
{"b":"7115001 — 0.5","id":"7115001","a":"All basins","c":"SnowLength","k":1,"x":[0,0.2,0.45,0.65,0.8],"y":[0,0.3,0.75,0.95,1]},
{"b":"7115001 — 0.5","id":"7115001","a":"All basins","c":"SnowLength","k":2,"x":[0,0.2,0.4,0.6,0.8,0.95],"y":[0,0.25,0.55,0.8,0.97,1]},
{"b":"7115001 — 0.5","id":"7115001","a":"All basins","c":"SnowLength","k":3,"x":[0,0.3,0.6,0.8,0.95],"y":[0,0.2,0.55,0.85,1]},
{"b":"7115001 — 0.5","id":"7115001","a":"All basins","c":"SnowLength","k":4,"x":[0,0.25,0.5,0.7,0.88],"y":[0,0.25,0.6,0.88,1]},
{"b":"7115001 — 0.5","id":"7115001","a":"All basins","c":"SUBL","k":1,"x":[0,0.05,0.15,0.35,0.6,0.9],"y":[0,0.4,0.7,0.88,0.97,1]},
{"b":"7115001 — 0.5","id":"7115001","a":"All basins","c":"SUBL","k":2,"x":[0,0.2,0.5,0.75,0.95,1],"y":[0,0.05,0.2,0.45,0.95,1]},
{"b":"7115001 — 0.5","id":"7115001","a":"All basins","c":"SUBL","k":3,"x":[0,0.2,0.5,0.8,1],"y":[0,0.2,0.5,0.8,1]},
{"b":"7115001 — 0.5","id":"7115001","a":"All basins","c":"SUBL","k":4,"x":[0,0.1,0.3,0.6,0.85,1],"y":[0,0.2,0.45,0.7,0.9,1]},
{"b":"7115001 — 0.5","id":"7115001","a":"All basins","c":"SUBL","k":5,"x":[0,0.2,0.45,0.7,0.9,1],"y":[0,0.1,0.3,0.55,0.82,1]},
{"b":"7115001 — 0.5","id":"7115001","a":"All basins","c":"TRANSP","k":1,"x":[0,0,0,0.01,1],"y":[0,0.5,0.97,1,1]},
{"b":"7115001 — 0.5","id":"7115001","a":"All basins","c":"TRANSP","k":2,"x":[0,0,0.05,0.2,0.5,0.8,1],"y":[0,0.4,0.55,0.68,0.82,0.95,1]},
{"b":"7115001 — 0.5","id":"7115001","a":"All basins","c":"TRANSP","k":3,"x":[0,0,0.06,0.25,0.55,0.85,1],"y":[0,0.35,0.5,0.64,0.8,0.94,1]},

{"b":"8317001 — 0.5","id":"8317001","a":"All basins","c":"RMSE","k":1,"x":[0,0.004,0.015,0.05,0.2,0.5,1],"y":[0,0.55,0.8,0.92,0.98,0.99,1]},
{"b":"8317001 — 0.5","id":"8317001","a":"All basins","c":"RMSE","k":2,"x":[0,0.005,0.02,0.07,0.25,0.6,1],"y":[0,0.5,0.75,0.88,0.96,0.99,1]},
{"b":"8317001 — 0.5","id":"8317001","a":"All basins","c":"RMSE","k":3,"x":[0,0.003,0.01,0.04,0.15,0.45,1],"y":[0,0.6,0.85,0.95,0.99,1,1]},
{"b":"8317001 — 0.5","id":"8317001","a":"All basins","c":"RMSE","k":4,"x":[0,0.006,0.025,0.08,0.3,0.6,1],"y":[0,0.45,0.7,0.85,0.95,0.99,1]},
{"b":"8317001 — 0.5","id":"8317001","a":"All basins","c":"TRMSE","k":1,"x":[0,0.008,0.03,0.1,0.3,0.7,0.97,1],"y":[0,0.5,0.68,0.78,0.85,0.9,0.93,1]},
{"b":"8317001 — 0.5","id":"8317001","a":"All basins","c":"TRMSE","k":2,"x":[0,0.01,0.04,0.12,0.35,0.75,0.97,1],"y":[0,0.45,0.63,0.74,0.82,0.88,0.92,1]},
{"b":"8317001 — 0.5","id":"8317001","a":"All basins","c":"TRMSE","k":3,"x":[0,0.006,0.02,0.08,0.25,0.6,0.97,1],"y":[0,0.55,0.72,0.82,0.88,0.92,0.96,1]},
{"b":"8317001 — 0.5","id":"8317001","a":"All basins","c":"TRMSE","k":4,"x":[0,0.008,0.03,0.1,0.3,0.7,0.97,1],"y":[0,0.5,0.66,0.77,0.84,0.89,0.94,1]},
{"b":"8317001 — 0.5","id":"8317001","a":"All basins","c":"FMS","k":1,"x":[0,0.01,0.04,0.12,0.3,0.6,1],"y":[0,0.35,0.55,0.68,0.8,0.9,1]},
{"b":"8317001 — 0.5","id":"8317001","a":"All basins","c":"FMS","k":2,"x":[0,0.012,0.05,0.15,0.35,0.65,1],"y":[0,0.32,0.5,0.64,0.77,0.89,1]},
{"b":"8317001 — 0.5","id":"8317001","a":"All basins","c":"FMS","k":3,"x":[0,0.008,0.03,0.1,0.25,0.55,1],"y":[0,0.38,0.58,0.71,0.82,0.92,1]},
{"b":"8317001 — 0.5","id":"8317001","a":"All basins","c":"FMS","k":4,"x":[0,0.01,0.04,0.13,0.32,0.62,1],"y":[0,0.35,0.53,0.66,0.78,0.9,1]},
{"b":"8317001 — 0.5","id":"8317001","a":"All basins","c":"RR","k":1,"x":[0,0.1,0.3,0.6,0.85,1],"y":[0,0.3,0.55,0.75,0.9,1]},
{"b":"8317001 — 0.5","id":"8317001","a":"All basins","c":"RR","k":2,"x":[0,0.05,0.15,0.35,0.6,1],"y":[0,0.5,0.8,0.95,0.99,1]},
{"b":"8317001 — 0.5","id":"8317001","a":"All basins","c":"RR","k":3,"x":[0,0.2,0.5,0.8,0.95,1],"y":[0,0.2,0.5,0.78,0.95,1]},
{"b":"8317001 — 0.5","id":"8317001","a":"All basins","c":"RR","k":4,"x":[0,0.08,0.25,0.5,0.8,1],"y":[0,0.35,0.62,0.8,0.93,1]},
{"b":"8317001 — 0.5","id":"8317001","a":"All basins","c":"RR","k":5,"x":[0,0.15,0.4,0.7,0.9,1],"y":[0,0.25,0.5,0.72,0.9,1]},
{"b":"8317001 — 0.5","id":"8317001","a":"All basins","c":"PeakSWE","k":1,"x":[0,0.05,0.2,0.4,0.55,0.7],"y":[0,0.1,0.4,0.75,0.95,1]},
{"b":"8317001 — 0.5","id":"8317001","a":"All basins","c":"PeakSWE","k":2,"x":[0,0.3,0.6,0.8,0.9,1],"y":[0,0.05,0.2,0.5,0.85,1]},
{"b":"8317001 — 0.5","id":"8317001","a":"All basins","c":"PeakSWE","k":3,"x":[0,0.2,0.4,0.6,0.8,1],"y":[0,0.2,0.45,0.7,0.92,1]},
{"b":"8317001 — 0.5","id":"8317001","a":"All basins","c":"PeakSWE","k":4,"x":[0,0.15,0.35,0.55,0.75,0.9,1],"y":[0,0.12,0.35,0.6,0.85,0.97,1]},
{"b":"8317001 — 0.5","id":"8317001","a":"All basins","c":"PeakSWE","k":5,"x":[0,0.25,0.5,0.7,0.85,1],"y":[0,0.1,0.3,0.55,0.85,1]},
{"b":"8317001 — 0.5","id":"8317001","a":"All basins","c":"SnowLength","k":1,"x":[0,0.1,0.3,0.5,0.7,0.85,1],"y":[0,0.15,0.45,0.7,0.9,0.98,1]},
{"b":"8317001 — 0.5","id":"8317001","a":"All basins","c":"SnowLength","k":2,"x":[0,0.12,0.33,0.55,0.72,0.88,1],"y":[0,0.15,0.45,0.7,0.9,0.98,1]},
{"b":"8317001 — 0.5","id":"8317001","a":"All basins","c":"SnowLength","k":3,"x":[0,0.08,0.27,0.47,0.67,0.83,1],"y":[0,0.15,0.45,0.7,0.9,0.98,1]},
{"b":"8317001 — 0.5","id":"8317001","a":"All basins","c":"SUBL","k":1,"x":[0,0,0.05,0.2,0.5,0.8,1],"y":[0,0.4,0.7,0.85,0.93,0.97,1]},
{"b":"8317001 — 0.5","id":"8317001","a":"All basins","c":"SUBL","k":2,"x":[0,0.3,0.6,0.8,0.95,1],"y":[0,0.02,0.1,0.3,0.7,1]},
{"b":"8317001 — 0.5","id":"8317001","a":"All basins","c":"SUBL","k":3,"x":[0,0.2,0.5,0.8,1],"y":[0,0.3,0.55,0.8,1]},
{"b":"8317001 — 0.5","id":"8317001","a":"All basins","c":"SUBL","k":4,"x":[0,0.1,0.3,0.6,0.85,1],"y":[0,0.3,0.55,0.75,0.9,1]},
{"b":"8317001 — 0.5","id":"8317001","a":"All basins","c":"SUBL","k":5,"x":[0,0.2,0.5,0.75,0.92,1],"y":[0,0.1,0.3,0.5,0.8,1]},
{"b":"8317001 — 0.5","id":"8317001","a":"All basins","c":"SUBL","k":6,"x":[0,0.03,0.15,0.4,0.7,1],"y":[0,0.4,0.65,0.8,0.9,1]},
{"b":"8317001 — 0.5","id":"8317001","a":"All basins","c":"TRANSP","k":1,"x":[0,0.005,0.05,0.2,0.5,0.8,1],"y":[0,0.3,0.5,0.65,0.82,0.95,1]},
{"b":"8317001 — 0.5","id":"8317001","a":"All basins","c":"TRANSP","k":2,"x":[0,0.005,0.06,0.25,0.55,0.85,1],"y":[0,0.28,0.45,0.6,0.77,0.92,1]},
{"b":"8317001 — 0.5","id":"8317001","a":"All basins","c":"TRANSP","k":3,"x":[0,0.004,0.04,0.18,0.45,0.75,1],"y":[0,0.33,0.55,0.7,0.85,0.96,1]},

{"b":"9129002 — 0.5","id":"9129002","a":"All basins","c":"RMSE","k":1,"x":[0,0.005,0.02,0.06,0.15,0.4,1],"y":[0,0.45,0.65,0.8,0.92,0.98,1]},
{"b":"9129002 — 0.5","id":"9129002","a":"All basins","c":"RMSE","k":2,"x":[0,0.01,0.05,0.15,0.35,0.65,1],"y":[0,0.35,0.55,0.72,0.88,0.97,1]},
{"b":"9129002 — 0.5","id":"9129002","a":"All basins","c":"RMSE","k":3,"x":[0,0.004,0.015,0.04,0.1,0.3,1],"y":[0,0.5,0.72,0.87,0.95,0.99,1]},
{"b":"9129002 — 0.5","id":"9129002","a":"All basins","c":"RMSE","k":4,"x":[0,0.008,0.03,0.1,0.25,0.5,1],"y":[0,0.4,0.6,0.77,0.9,0.97,1]},
{"b":"9129002 — 0.5","id":"9129002","a":"All basins","c":"TRMSE","k":1,"x":[0,0.006,0.02,0.06,0.25,0.6,0.97,1],"y":[0,0.55,0.7,0.78,0.85,0.89,0.93,1]},
{"b":"9129002 — 0.5","id":"9129002","a":"All basins","c":"TRMSE","k":2,"x":[0,0.008,0.03,0.1,0.3,0.7,0.97,1],"y":[0,0.5,0.65,0.74,0.81,0.86,0.9,1]},
{"b":"9129002 — 0.5","id":"9129002","a":"All basins","c":"TRMSE","k":3,"x":[0,0.005,0.015,0.05,0.2,0.55,0.97,1],"y":[0,0.58,0.74,0.82,0.88,0.92,0.96,1]},
{"b":"9129002 — 0.5","id":"9129002","a":"All basins","c":"TRMSE","k":4,"x":[0,0.006,0.02,0.07,0.25,0.6,0.97,1],"y":[0,0.55,0.7,0.78,0.84,0.88,0.92,1]},
{"b":"9129002 — 0.5","id":"9129002","a":"All basins","c":"FMS","k":1,"x":[0,0.008,0.03,0.1,0.3,0.6,1],"y":[0,0.4,0.6,0.72,0.84,0.92,1]},
{"b":"9129002 — 0.5","id":"9129002","a":"All basins","c":"FMS","k":2,"x":[0,0.01,0.04,0.13,0.35,0.65,1],"y":[0,0.37,0.56,0.69,0.81,0.9,1]},
{"b":"9129002 — 0.5","id":"9129002","a":"All basins","c":"FMS","k":3,"x":[0,0.006,0.025,0.08,0.25,0.55,1],"y":[0,0.43,0.63,0.75,0.86,0.93,1]},
{"b":"9129002 — 0.5","id":"9129002","a":"All basins","c":"FMS","k":4,"x":[0,0.008,0.03,0.1,0.3,0.6,1],"y":[0,0.4,0.58,0.7,0.82,0.91,1]},
{"b":"9129002 — 0.5","id":"9129002","a":"All basins","c":"RR","k":1,"x":[0,0.2,0.5,0.8,0.95,1],"y":[0,0.2,0.45,0.75,0.93,1]},
{"b":"9129002 — 0.5","id":"9129002","a":"All basins","c":"RR","k":2,"x":[0,0.25,0.55,0.8,0.95,1],"y":[0,0.2,0.45,0.72,0.9,1]},
{"b":"9129002 — 0.5","id":"9129002","a":"All basins","c":"RR","k":3,"x":[0,0.05,0.2,0.4,0.6,1],"y":[0,0.5,0.8,0.95,1,1]},
{"b":"9129002 — 0.5","id":"9129002","a":"All basins","c":"RR","k":4,"x":[0,0.15,0.4,0.7,0.9,1],"y":[0,0.25,0.5,0.75,0.92,1]},
{"b":"9129002 — 0.5","id":"9129002","a":"All basins","c":"RR","k":5,"x":[0,0.3,0.6,0.85,0.97,1],"y":[0,0.15,0.38,0.65,0.88,1]},
{"b":"9129002 — 0.5","id":"9129002","a":"All basins","c":"PeakSWE","k":1,"x":[0,0.05,0.2,0.4,0.5],"y":[0,0.2,0.6,0.9,1]},
{"b":"9129002 — 0.5","id":"9129002","a":"All basins","c":"PeakSWE","k":2,"x":[0,0.3,0.6,0.8,0.9,1],"y":[0,0.05,0.25,0.55,0.8,1]},
{"b":"9129002 — 0.5","id":"9129002","a":"All basins","c":"PeakSWE","k":3,"x":[0,0.2,0.4,0.6,0.75,1],"y":[0,0.25,0.5,0.8,0.97,1]},
{"b":"9129002 — 0.5","id":"9129002","a":"All basins","c":"PeakSWE","k":4,"x":[0,0.15,0.35,0.55,0.7,0.85,1],"y":[0,0.2,0.45,0.72,0.9,0.98,1]},
{"b":"9129002 — 0.5","id":"9129002","a":"All basins","c":"PeakSWE","k":5,"x":[0,0.25,0.5,0.7,0.85,1],"y":[0,0.15,0.35,0.6,0.85,1]},
{"b":"9129002 — 0.5","id":"9129002","a":"All basins","c":"PeakSWE","k":6,"x":[0,0.1,0.3,0.5,0.65,0.8],"y":[0,0.2,0.5,0.8,0.95,1]},
{"b":"9129002 — 0.5","id":"9129002","a":"All basins","c":"SnowLength","k":1,"x":[0,0.2,0.4,0.6,0.8,0.9],"y":[0,0.3,0.55,0.8,0.92,1]},
{"b":"9129002 — 0.5","id":"9129002","a":"All basins","c":"SnowLength","k":2,"x":[0,0,0.2,0.4,0.6,0.75,0.9],"y":[0,0.45,0.55,0.6,0.8,0.95,1]},
{"b":"9129002 — 0.5","id":"9129002","a":"All basins","c":"SnowLength","k":3,"x":[0,0.1,0.3,0.5,0.7,0.85,0.95,1],"y":[0,0.1,0.35,0.6,0.75,0.78,0.97,1]},
{"b":"9129002 — 0.5","id":"9129002","a":"All basins","c":"SnowLength","k":4,"x":[0,0.15,0.35,0.55,0.75,0.9],"y":[0,0.25,0.5,0.75,0.9,1]},
{"b":"9129002 — 0.5","id":"9129002","a":"All basins","c":"SnowLength","k":5,"x":[0,0,0.15,0.35,0.55,0.75,0.9],"y":[0,0.35,0.45,0.52,0.72,0.92,1]},
{"b":"9129002 — 0.5","id":"9129002","a":"All basins","c":"SUBL","k":1,"x":[0,0.05,0.2,0.4,0.6],"y":[0,0.4,0.75,0.92,1]},
{"b":"9129002 — 0.5","id":"9129002","a":"All basins","c":"SUBL","k":2,"x":[0,0.2,0.5,0.8,0.95,1],"y":[0,0.03,0.2,0.6,0.95,1]},
{"b":"9129002 — 0.5","id":"9129002","a":"All basins","c":"SUBL","k":3,"x":[0,0.2,0.5,0.8,1],"y":[0,0.25,0.55,0.85,1]},
{"b":"9129002 — 0.5","id":"9129002","a":"All basins","c":"SUBL","k":4,"x":[0,0.1,0.35,0.65,0.9,1],"y":[0,0.2,0.5,0.78,0.95,1]},
{"b":"9129002 — 0.5","id":"9129002","a":"All basins","c":"SUBL","k":5,"x":[0,0.25,0.55,0.8,0.95,1],"y":[0,0.15,0.4,0.7,0.92,1]},
{"b":"9129002 — 0.5","id":"9129002","a":"All basins","c":"TRANSP","k":1,"x":[0,0.005,0.05,0.2,0.5,0.8,1],"y":[0,0.3,0.5,0.62,0.78,0.92,1]},
{"b":"9129002 — 0.5","id":"9129002","a":"All basins","c":"TRANSP","k":2,"x":[0,0.005,0.06,0.25,0.55,0.85,1],"y":[0,0.28,0.46,0.58,0.74,0.9,1]},
{"b":"9129002 — 0.5","id":"9129002","a":"All basins","c":"TRANSP","k":3,"x":[0,0.004,0.04,0.18,0.45,0.75,1],"y":[0,0.33,0.54,0.66,0.8,0.93,1]}
 ]},
 "transform": [{"flatten": ["x", "y"]}, {"fold": ["id", "a"], "as": ["fk", "row"]}],
 "facet": {
  "row": {"field": "row", "type": "nominal", "sort": ["2101001","3414001","5707002","7115001","8317001","9129002","All basins"], "header": null},
  "column": {"field": "c", "type": "nominal", "sort": ["RMSE","TRMSE","FMS","RR","PeakSWE","SnowLength","SUBL","TRANSP"], "header": null}
 },
 "spacing": 0,
 "bounds": "flush",
 "spec": {
  "width": 118.5, "height": 121.14,
  "layer": [
   {"mark": {"type": "line", "strokeWidth": 3, "opacity": 0.45, "strokeCap": "round", "strokeJoin": "round"},
    "encoding": {
     "x": {"field": "x", "type": "quantitative", "scale": {"domain": [-0.045, 1.045], "nice": false, "zero": false},
           "axis": {"values": [0, 0.5, 1], "labels": false, "tickSize": 5, "offset": 2, "title": null}},
     "y": {"field": "y", "type": "quantitative", "scale": {"domain": [-0.045, 1.045], "nice": false, "zero": false}, "axis": null},
     "color": {"field": "b", "type": "nominal",
       "scale": {"domain": ["2101001 — 5.4","5707002 — 1.0","8317001 — 0.5","3414001 — 7.1","7115001 — 0.5","9129002 — 0.5"],
                 "range": ["#ff1414","#ffa500","#1a85ff","#ff5500","#22f0f0","#1010f0"]},
       "legend": {"title": "Basin ID — Aridity index", "orient": "none", "legendX": 172, "legendY": -69, "columns": 3, "direction": "horizontal",
         "symbolType": "M26.4,0H33.8", "symbolSize": 100, "symbolStrokeWidth": 4, "symbolOpacity": 0.85,
         "labelFontSize": 17, "labelAlign": "left", "labelOffset": 0, "columnPadding": 41, "rowPadding": 0,
         "titleFontSize": 20, "titleFontWeight": "normal", "titleAnchor": "middle", "titlePadding": 2, "titleLimit": 600, "labelLimit": 300, "labelColor": "#000", "titleColor": "#000"}},
     "detail": {"field": "k"},
     "order": [{"field": "x", "type": "quantitative"}, {"field": "y", "type": "quantitative"}]
    }},
   {"transform": [{"filter": "datum.c == 'RMSE' && datum.k == 1 && datum.y == 0"}],
    "mark": {"type": "text", "fontSize": 15.5, "opacity": 0, "text": "0.0"},
    "encoding": {"x": {"datum": 0, "type": "quantitative"}, "y": {"datum": 0.5, "type": "quantitative"}}}
  ]
 }
},
{"width": 20, "height": 10, "view": {"stroke": null}, "data": {"values": [{}]}, "mark": {"type": "text", "text": ""}},
{
 "data": {"values": [
  {"c":"RMSE","v":0,"txt":"0.0"},{"c":"RMSE","v":0.5,"txt":"0.5"},{"c":"RMSE","v":1,"txt":"1.0"},
  {"c":"TRMSE","v":0.5,"txt":""},
  {"c":"FMS","v":0,"txt":"0.0"},{"c":"FMS","v":0.5,"txt":"0.5"},{"c":"FMS","v":1,"txt":"1.0"},
  {"c":"RR","v":0.5,"txt":""},
  {"c":"PeakSWE","v":0,"txt":"0.0"},{"c":"PeakSWE","v":0.5,"txt":"0.5"},{"c":"PeakSWE","v":1,"txt":"1.0"},
  {"c":"SnowLength","v":0.5,"txt":""},
  {"c":"SUBL","v":0,"txt":"0.0"},{"c":"SUBL","v":0.5,"txt":"0.5"},{"c":"SUBL","v":1,"txt":"1.0"},
  {"c":"TRANSP","v":0.5,"txt":""}
 ]},
 "facet": {"column": {"field": "c", "type": "nominal", "sort": ["RMSE","TRMSE","FMS","RR","PeakSWE","SnowLength","SUBL","TRANSP"], "header": null}},
 "spacing": 0,
 "bounds": "flush",
 "title": {"text": "First-order DELSA sensitivity index [-]", "orient": "bottom", "anchor": "middle", "fontSize": 20, "fontWeight": "normal", "offset": 2},
 "spec": {
  "width": 118.5, "height": 18, "view": {"stroke": null},
  "mark": {"type": "text", "fontSize": 15.5, "dy": -6, "color": "#000"},
  "encoding": {
   "x": {"field": "v", "type": "quantitative", "scale": {"domain": [-0.045, 1.045], "nice": false, "zero": false}, "axis": null},
   "text": {"field": "txt"}
  }
 }
}
]
}
